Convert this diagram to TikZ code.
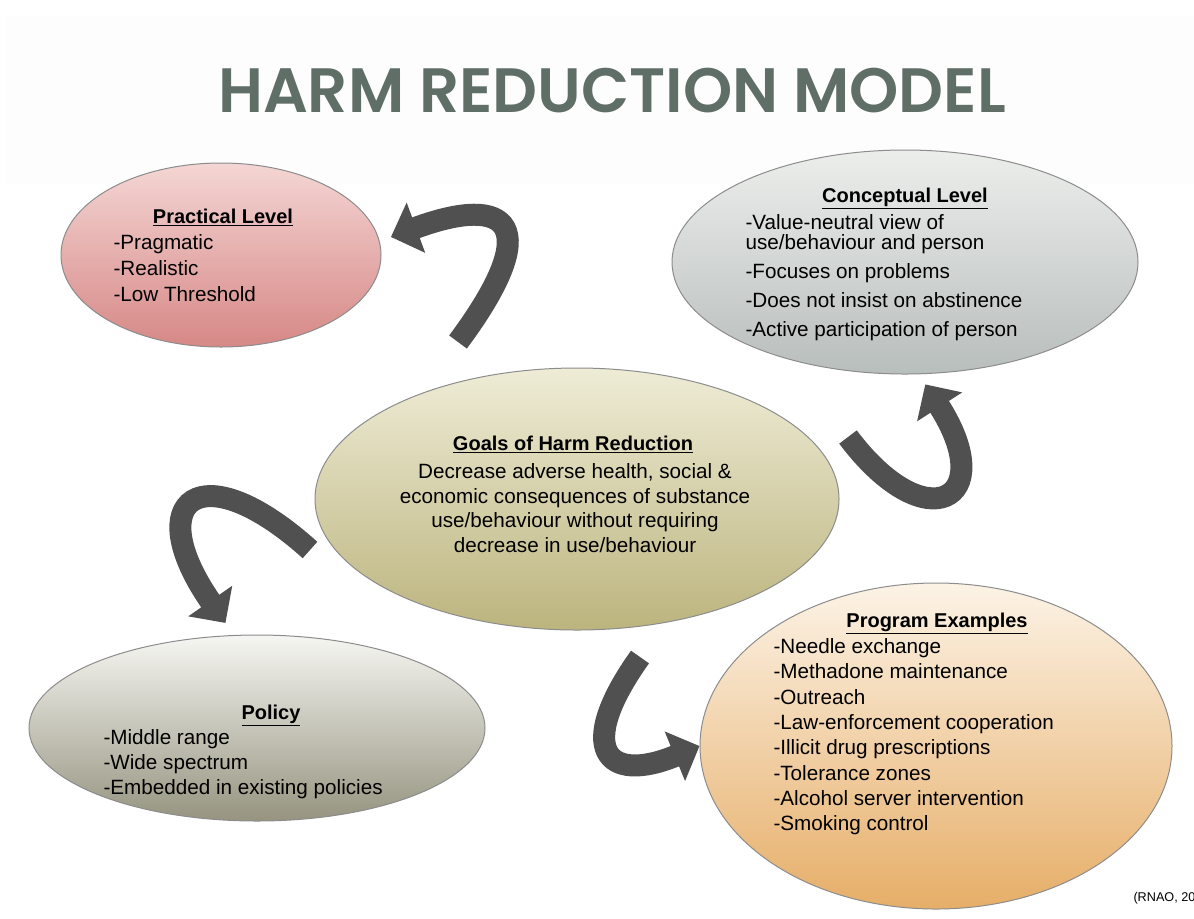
\documentclass[tikz,border=0pt]{standalone}
\usepackage{fontspec}
\setmainfont{Liberation Sans}
\newfontfamily\titlefont{Poppins SemiBold}
\usepackage{xcolor}
\usepackage{tikz}
\usetikzlibrary{shapes.geometric,arrows.meta}
\tikzset{every picture/.style={line width=0.75pt}}

\definecolor{titlegray}{RGB}{96,110,104}
\definecolor{rimgray}{RGB}{140,140,140}
\definecolor{arrowgray}{RGB}{80,80,80}
\definecolor{pracTop}{RGB}{244,214,212}
\definecolor{pracBot}{RGB}{214,136,134}
\definecolor{concTop}{RGB}{236,238,236}
\definecolor{concBot}{RGB}{184,190,188}
\definecolor{goalTop}{RGB}{238,236,214}
\definecolor{goalBot}{RGB}{188,180,126}
\definecolor{polTop}{RGB}{246,246,242}
\definecolor{polBot}{RGB}{150,148,128}
\definecolor{progTop}{RGB}{252,243,230}
\definecolor{progBot}{RGB}{230,174,104}

\tikzset{
  level/.style={ellipse, draw=rimgray, inner sep=0pt},
  bigarrow/.style={draw=arrowgray, line width=16.5pt, -{Triangle[length=20pt,width=39pt]}},
  head/.style={font=\fontsize{15}{18}\selectfont\bfseries, inner sep=0pt, anchor=base},
  items/.style={font=\fontsize{15.5}{19}\selectfont, inner sep=0pt, align=left, anchor=north west},
}

\begin{document}
\begin{tikzpicture}[x=0.75pt,y=0.75pt,yscale=-1,xscale=1]
\useasboundingbox (0,0) rectangle (1194,918);
% title band
\fill [color={rgb, 255:red, 253; green, 253; blue, 253 }] (6,16) rectangle (1194,184);
\node (title) [font=\titlefont\fontsize{47}{56}\selectfont, color=titlegray, anchor=base, inner sep=0pt] at (612,112) {HARM REDUCTION MODEL};

% ellipses
\node (practical) [level, top color=pracTop, bottom color=pracBot, minimum width=240pt, minimum height=138pt] at (221,255) {};
\node (conceptual) [level, top color=concTop, bottom color=concBot, minimum width=349.5pt, minimum height=168pt] at (905,262) {};
\node (goals) [level, top color=goalTop, bottom color=goalBot, minimum width=393pt, minimum height=196.5pt] at (577,499) {};
\node (policy) [level, top color=polTop, bottom color=polBot, minimum width=342pt, minimum height=139.5pt] at (257,728) {};
\node (program) [level, top color=progTop, bottom color=progBot, minimum width=354pt, minimum height=244.5pt] at (936,746) {};

% texts
\node (practicalhead) [head] at (223,223) {\underline{Practical Level}};
\node (practicallist) [items, font=\fontsize{15.5}{19.5}\selectfont] at (113,234) {-Pragmatic\\-Realistic\\-Low Threshold};

\node (conceptualhead) [head] at (905,202) {\underline{Conceptual Level}};
\node (conceptuallist) [items, font=\fontsize{15.5}{21.75}\selectfont] at (745,214) {-Value-neutral view of\\[-7pt]use/behaviour and person\\-Focuses on problems\\-Does not insist on abstinence\\-Active participation of person};

\node (goalshead) [head] at (573,450) {\underline{Goals of Harm Reduction}};
\node (goalstext) [items, align=center, anchor=north, font=\fontsize{15.5}{18.4}\selectfont] at (575,463) {Decrease adverse health, social \&\\economic consequences of substance\\use/behaviour without requiring\\decrease in use/behaviour};

\node (policyhead) [head] at (271,719) {\underline{Policy}};
\node (policylist) [items, font=\fontsize{15.5}{18.75}\selectfont] at (103,729) {-Middle range\\-Wide spectrum\\-Embedded in existing policies};

\node (programhead) [head] at (937,627) {\underline{Program Examples}};
\node (programlist) [items, font=\fontsize{15.5}{19}\selectfont] at (773,638) {-Needle exchange\\-Methadone maintenance\\-Outreach\\-Law-enforcement cooperation\\-Illicit drug prescriptions\\-Tolerance zones\\-Alcohol server intervention\\-Smoking control};

\node (source) [font=\fontsize{9.5}{11}\selectfont, anchor=base west, inner sep=0pt] at (1133,901) {(RNAO, 200};

% curved arrows
\coordinate (tailA) at (458,342);
\coordinate (tailB) at (848,437);
\coordinate (tailC) at (310,550);
\coordinate (tailD) at (640,657);
\draw [bigarrow, shorten >=9pt] (tailA) .. controls (545,225) and (510,193) .. (practical.5);
\draw [bigarrow, shorten >=9pt] (tailB) .. controls (926,541) and (1000,501) .. (conceptual.-83);
\draw [bigarrow, shorten >=11pt] (tailC) .. controls (200,451) and (140,500) .. (policy.104);
\draw [bigarrow] (tailD) .. controls (575,748) and (605,785) .. (program.west);
\end{tikzpicture}
\end{document}
